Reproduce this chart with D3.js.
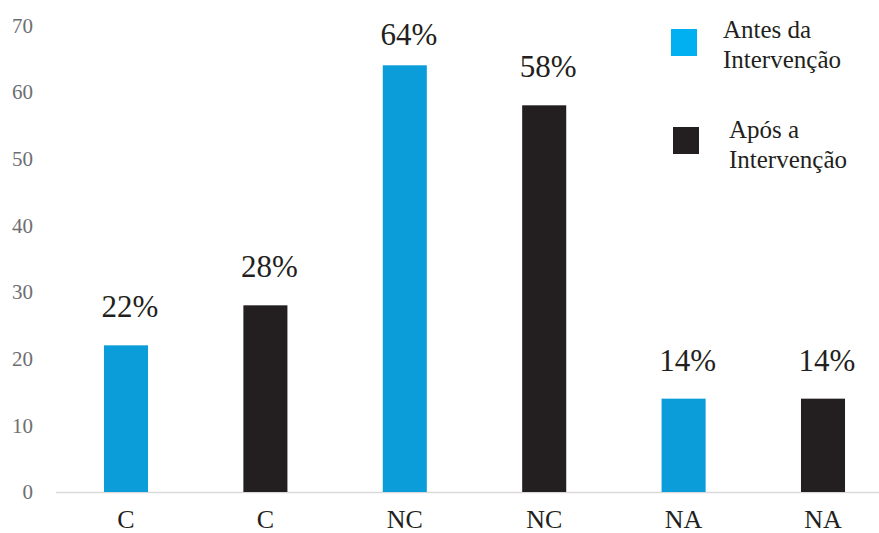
<!DOCTYPE html>
<html><head><meta charset="utf-8">
<script src="https://cdn.jsdelivr.net/npm/d3@7"></script>
<style>body{margin:0;background:#fff}svg{display:block}svg text{font-family:"Liberation Serif","DejaVu Serif",serif}</style>
</head><body>
<script>
const categories = ["C","C","NC","NC","NA","NA"];
const values = [22,28,64,58,14,14];
const seriesOf = ["Antes","Após","Antes","Após","Antes","Após"];
const labels = ["22%","28%","64%","58%","14%","14%"];
const yTicks = [0,10,20,30,40,50,60,70];
const legendNames = [["Antes da","Intervenção"],["Após a","Intervenção"]];
const seriesKeys = ["Antes","Após"];

const W=879,H=533;
const barColor = {"Antes":"#0a9dd9","Após":"#231f20"};
const legendColor = {"Antes":"#00b0f0","Após":"#231f20"};

const svg = d3.select("body").append("svg").attr("width",W).attr("height",H);
const y = d3.scaleLinear().domain([0,70]).range([492,25.3]);
const x = d3.scaleBand().domain(d3.range(categories.length)).range([56.3,892.7]).paddingInner(0.684).paddingOuter(0.342);

// y tick labels
svg.append("g").selectAll("text").data(yTicks).join("text")
  .attr("x",33).attr("y",d=>y(d)).attr("dy","0.35em")
  .attr("text-anchor","end").attr("font-size",21)
  .attr("fill","#6d6e71").text(d=>d);

// baseline
svg.append("line").attr("x1",56).attr("x2",879).attr("y1",y(0)+0.5).attr("y2",y(0)+0.5)
  .attr("stroke","#d9d9d9").attr("stroke-width",1.5);

// bars
svg.append("g").selectAll("rect").data(values).join("rect")
  .attr("x",(d,i)=>x(i)).attr("width",x.bandwidth())
  .attr("y",d=>y(d)).attr("height",d=>y(0)-y(d))
  .attr("fill",(d,i)=>barColor[seriesOf[i]]);

// value labels
svg.append("g").selectAll("text").data(values).join("text")
  .attr("x",(d,i)=>x(i)+x.bandwidth()/2+4)
  .attr("y",d=>Math.max(y(d)-28,45))
  .attr("text-anchor","middle").attr("font-size",31)
  .attr("fill","#231f20").text((d,i)=>labels[i]);

// x labels
svg.append("g").selectAll("text").data(categories).join("text")
  .attr("x",(d,i)=>x(i)+x.bandwidth()/2).attr("y",528)
  .attr("text-anchor","middle").attr("font-size",26)
  .attr("fill","#231f20").text(d=>d);

// legend
const leg = svg.append("g");
const legPos = [{sx:671,sy:29,tx:723,ty:38},{sx:673,sy:127,tx:729,ty:138}];
seriesKeys.forEach((k,i)=>{
  const p = legPos[i];
  leg.append("rect").attr("x",p.sx).attr("y",p.sy).attr("width",26).attr("height",27).attr("fill",legendColor[k]);
  const t = leg.append("text").attr("font-size",25).attr("fill","#231f20");
  legendNames[i].forEach((s,j)=>t.append("tspan").attr("x",p.tx).attr("y",p.ty+j*29.5).text(s));
});
</script>
</body></html>
